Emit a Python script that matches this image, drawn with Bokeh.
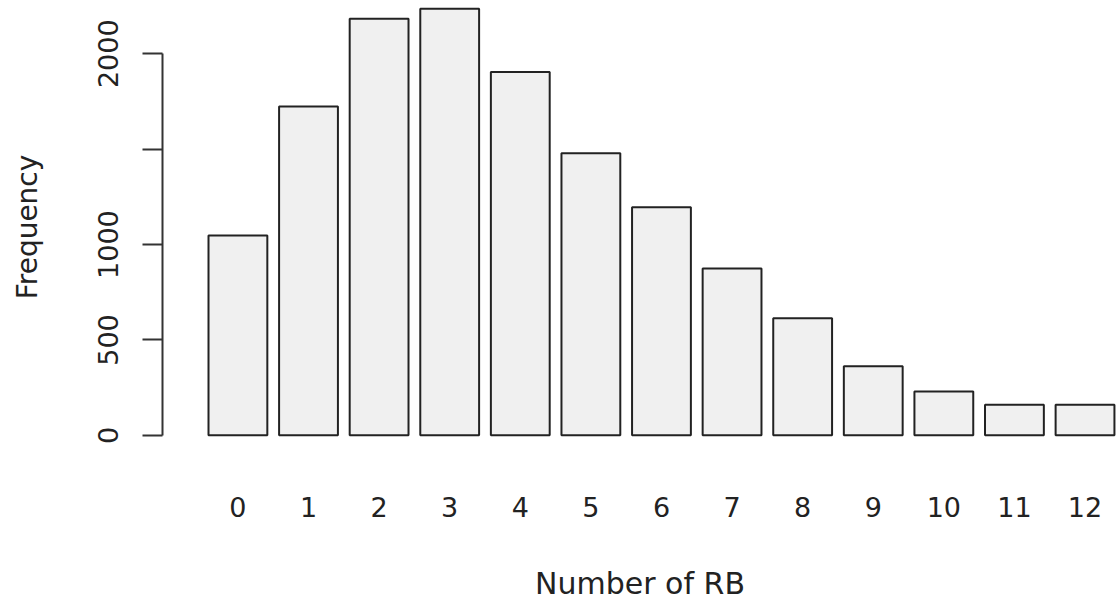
from bokeh.plotting import figure
from bokeh.models import Range1d, LinearAxis, FixedTicker, ColumnDataSource
from bokeh.embed import file_html
from bokeh.resources import INLINE

# ---- data ----
categories = ["0", "1", "2", "3", "4", "5", "6", "7", "8", "9", "10", "11", "12"]
frequency = [1048, 1724, 2183, 2236, 1904, 1478, 1195, 875, 614, 362, 230, 161, 161]
y_ticks = [0, 500, 1000, 1500, 2000]
y_tick_labels = ["0", "500", "1000", "", "2000"]
x_title = "Number of RB"
y_title = "Frequency"

# bar layout like R's barplot (width 1, space 0.2) scaled to integer positions
step, bar_w = 6, 5
x_pos = [step * i for i in range(len(categories))]

src = ColumnDataSource(dict(x=x_pos, top=frequency, cat=categories))

FONT = "DejaVu Sans"
TXT = "#222222"

p = figure(width=1117, height=603,
           x_range=Range1d(-6.41, 74.76), y_range=Range1d(-95, 2279),
           x_axis_type=None, y_axis_type=None,
           output_backend="svg", toolbar_location=None,
           min_border_left=162, min_border_right=0, min_border_top=0,
           min_border_bottom=150)
p.outline_line_color = None
p.background_fill_color = "white"
p.border_fill_color = "white"

p.vbar(x="x", top="top", bottom=0, width=bar_w, source=src,
       fill_color="#f0f0f0", line_color="#222222", line_width=2)

yaxis = LinearAxis(ticker=FixedTicker(ticks=y_ticks), bounds=(0, 2000),
                   major_label_overrides={t: l for t, l in zip(y_ticks, y_tick_labels)},
                   major_tick_out=20, major_tick_in=0,
                   minor_tick_line_color=None,
                   axis_line_color="#333333", axis_line_width=2,
                   major_tick_line_color="#333333", major_tick_line_width=2,
                   major_label_orientation="vertical",
                   major_label_standoff=24,
                   major_label_text_font=FONT, major_label_text_font_size="27px",
                   major_label_text_color=TXT,
                   axis_label=y_title, axis_label_standoff=52,
                   axis_label_text_font=FONT, axis_label_text_font_size="28px",
                   axis_label_text_font_style="normal", axis_label_text_color=TXT)
p.add_layout(yaxis, "left")

xaxis = LinearAxis(ticker=FixedTicker(ticks=x_pos),
                   major_label_overrides={x: c for x, c in zip(x_pos, categories)},
                   axis_line_color=None, major_tick_line_color=None,
                   minor_tick_line_color=None,
                   major_label_standoff=37,
                   major_label_text_font=FONT, major_label_text_font_size="27px",
                   major_label_text_color=TXT,
                   axis_label=x_title, axis_label_standoff=46,
                   axis_label_text_font=FONT, axis_label_text_font_size="30px",
                   axis_label_text_font_style="normal", axis_label_text_color=TXT)
p.add_layout(xaxis, "below")

open("out.html", "w").write(file_html(p, INLINE))
